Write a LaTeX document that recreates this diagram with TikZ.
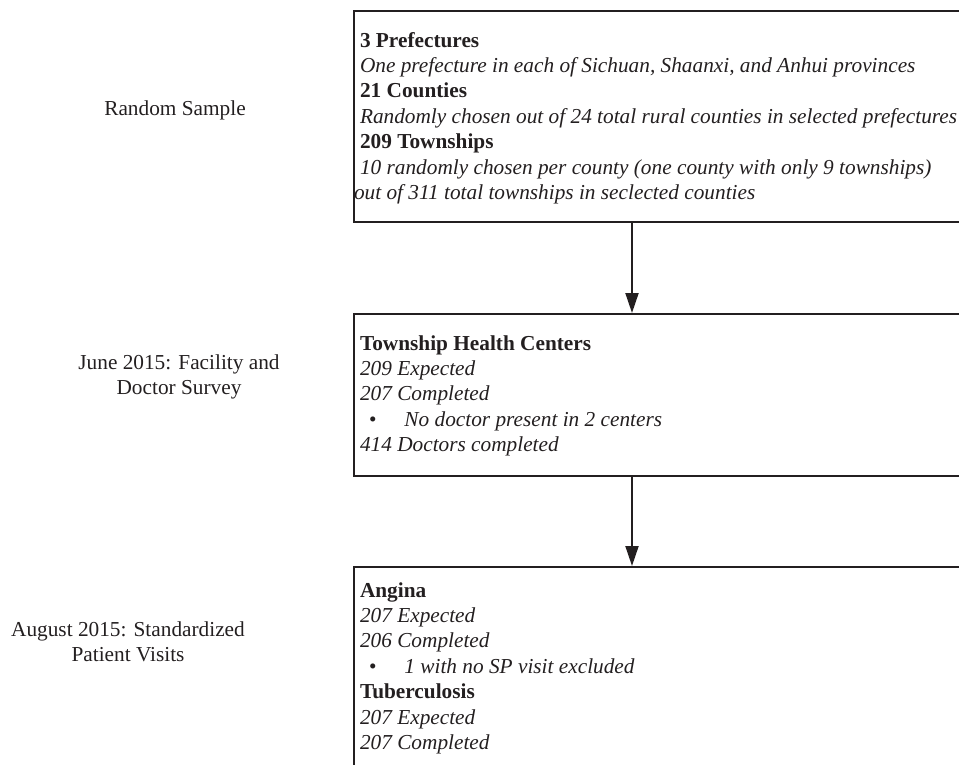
\documentclass[tikz,border=0pt]{standalone}
\usepackage{fontspec}
\setmainfont{Liberation Serif}
\usetikzlibrary{arrows.meta}

\definecolor{ink}{HTML}{231F20}
\newcommand{\boxlines}[3]{\parbox[t][#1][t]{330pt}{\vspace*{#2}\strut#3}}
\newcommand{\dotline}[1]{\hspace*{4.5pt}\textbullet\hspace*{14pt}\textit{#1}}

\tikzset{
  stage/.style={font=\fontsize{10.65}{12.7}\selectfont, align=center, text=ink},
  flowbox/.style={draw=ink, line width=1pt, anchor=north west, inner xsep=3pt, inner ysep=0pt,
    text=ink, font=\fontsize{10.65}{12.7}\selectfont},
  flowarrow/.style={draw=ink, -{Triangle[length=10pt,width=6.5pt]}, line width=1pt}
}

\begin{document}
\begin{tikzpicture}[x=0.5pt,y=-0.5pt]
        \path[use as bounding box, clip] (0,0) rectangle (959,765);
        \coordinate (spine) at (632,0);
        % boxes
        \node[flowbox] (sample) at (353,10) {\boxlines{105.5pt}{9.2pt}{\textbf{3 Prefectures}\\
          \textit{One prefecture in each of Sichuan, Shaanxi, and Anhui provinces}\\
          \textbf{21 Counties}\\
          \textit{Randomly chosen out of 24 total rural counties in selected prefectures}\\
          \textbf{209 Townships}\\
          \textit{10 randomly chosen per county (one county with only 9 townships)}\\
          \hspace*{-3pt}\textit{out of 311 total townships in seclected counties}}};
        \node[flowbox] (survey) at (353,313) {\boxlines{81pt}{9.2pt}{\textbf{Township Health Centers}\\
          \textit{209 Expected}\\
          \textit{207 Completed}\\
          \dotline{No doctor present in 2 centers}\\
          \textit{414 Doctors completed}}};
        \node[flowbox] (visits) at (353,566) {\boxlines{120pt}{6.2pt}{\textbf{Angina}\\
          \textit{207 Expected}\\
          \textit{206 Completed}\\
          \dotline{1 with no SP visit excluded}\\
          \textbf{Tuberculosis}\\
          \textit{207 Expected}\\
          \textit{207 Completed}}};
        % stage labels
        \node[stage] (random) at (175,110) {Random Sample};
        \node[stage] (june) at (179,377) {June 2015: Facility and\\Doctor Survey};
        \node[stage] (august) at (128,642) {August 2015: Standardized\\Patient Visits};
        % arrows
        \draw[flowarrow] (sample.south -| spine) -- (survey.north -| spine);
        \draw[flowarrow] (survey.south -| spine) -- (visits.north -| spine);
      \end{tikzpicture}
\end{document}
